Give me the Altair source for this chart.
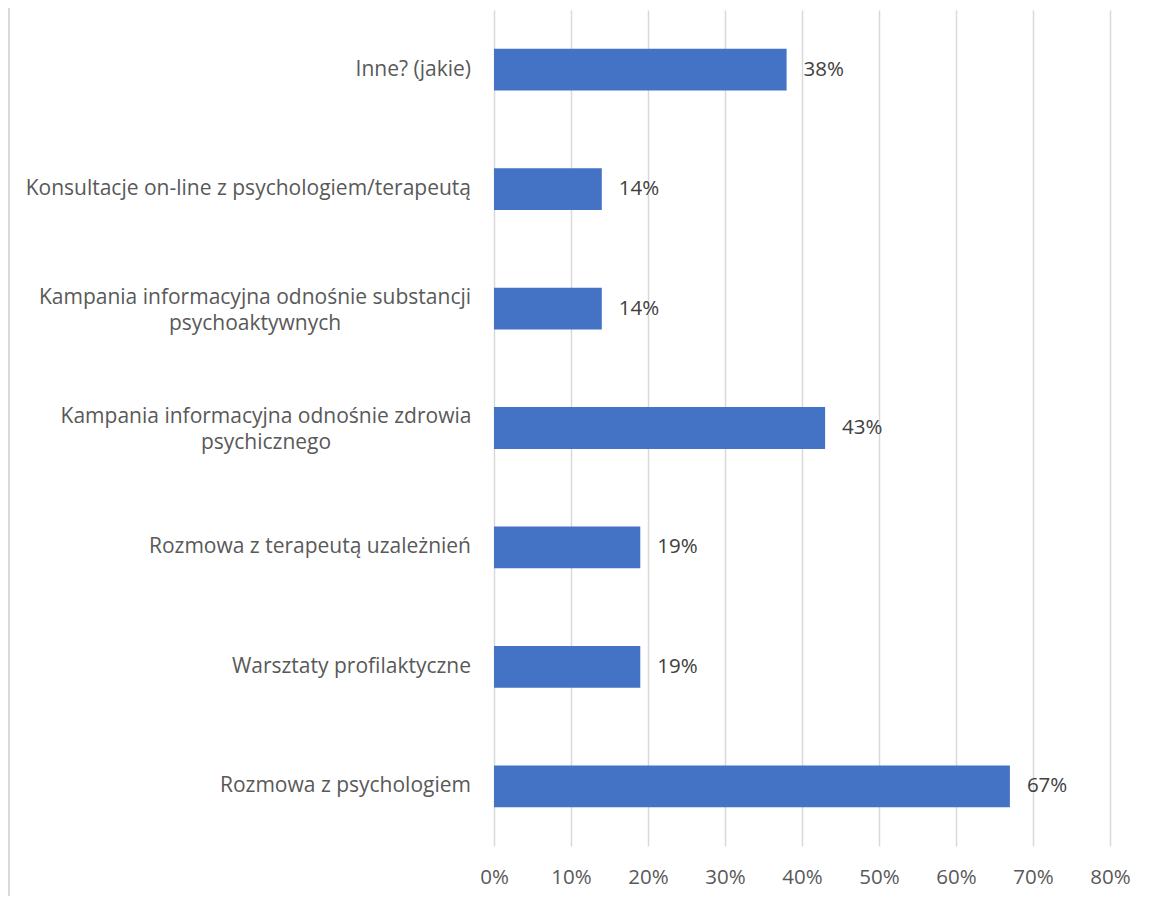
import altair as alt
import pandas as pd

categories = [
    "Inne? (jakie)",
    "Konsultacje on-line z psychologiem/terapeutą",
    "Kampania informacyjna odnośnie substancji psychoaktywnych",
    "Kampania informacyjna odnośnie zdrowia psychicznego",
    "Rozmowa z terapeutą uzależnień",
    "Warsztaty profilaktyczne",
    "Rozmowa z psychologiem",
]
label_line1 = [
    "Inne? (jakie)",
    "Konsultacje on-line z psychologiem/terapeutą",
    "Kampania informacyjna odnośnie substancji",
    "Kampania informacyjna odnośnie zdrowia",
    "Rozmowa z terapeutą uzależnień",
    "Warsztaty profilaktyczne",
    "Rozmowa z psychologiem",
]
label_line2 = ["", "", "psychoaktywnych", "psychicznego", "", "", ""]
values = [0.38, 0.14, 0.14, 0.43, 0.19, 0.19, 0.67]
x_ticks = [0, 0.1, 0.2, 0.3, 0.4, 0.5, 0.6, 0.7, 0.8]

df = pd.DataFrame({
    "cat": categories,
    "value": values,
    "line1": label_line1,
    "line2": label_line2,
    "wrapped": [bool(b) for b in label_line2],
})

FONT = "Open Sans"
GREY = "#595959"
W, H = 616, 836
CAT_FS = 21
NUM_FS = 20.5
Y = alt.Y("cat:N", sort=categories)

y_enc = alt.Y("cat:N", sort=categories, axis=None,
              scale=alt.Scale(paddingInner=0.65, paddingOuter=0.325))
x_enc = alt.X("value:Q", scale=alt.Scale(domain=[0, 0.8], nice=False),
              axis=alt.Axis(values=x_ticks, format=".0%", grid=True, gridColor="#d9d9d9",
                            gridWidth=1.5, domain=False, ticks=False, labelPadding=21,
                            labelFlush=False, labelFont=FONT, labelFontSize=NUM_FS,
                            labelColor=GREY, title=None))

bars = alt.Chart(df).mark_bar(color="#4472C4").encode(x=x_enc, y=y_enc)

vals = alt.Chart(df).mark_text(align="left", baseline="middle", dx=17, font=FONT,
                               fontSize=NUM_FS, color="#404040").encode(
    x="value:Q", y=Y, text=alt.Text("value:Q", format=".0%"))

single = alt.Chart(df).transform_filter("!datum.wrapped").mark_text(
    align="right", baseline="middle", font=FONT, fontSize=CAT_FS, color=GREY).encode(
    x=alt.value(-23), y=Y, text="line1:N")


def wrapped_label(cat, cx):
    base = alt.Chart(df).transform_filter(alt.datum.cat == cat)
    first = base.mark_text(align="center", baseline="middle", dy=-11, font=FONT,
                           fontSize=CAT_FS, color=GREY).encode(
        x=alt.value(cx), y=Y, text="line1:N")
    second = base.mark_text(align="center", baseline="middle", dy=15, font=FONT,
                            fontSize=CAT_FS, color=GREY).encode(
        x=alt.value(cx), y=Y, text="line2:N")
    return [first, second]


border = alt.Chart(df).mark_rule(color="#d9d9d9", strokeWidth=2).encode(
    x=alt.value(-485), y=alt.value(-10), y2=alt.value(H + 60))

layers = [bars, vals, single] + wrapped_label(categories[2], -239) + \
    wrapped_label(categories[3], -228) + [border]

chart = alt.layer(*layers).properties(
    width=W, height=H,
    padding={"left": 486, "top": 2, "right": 37, "bottom": 50},
    autosize=alt.AutoSizeParams(type="none"),
).configure_view(stroke=None)

chart.save("out.html", embed_options={"renderer": "svg", "actions": False})
